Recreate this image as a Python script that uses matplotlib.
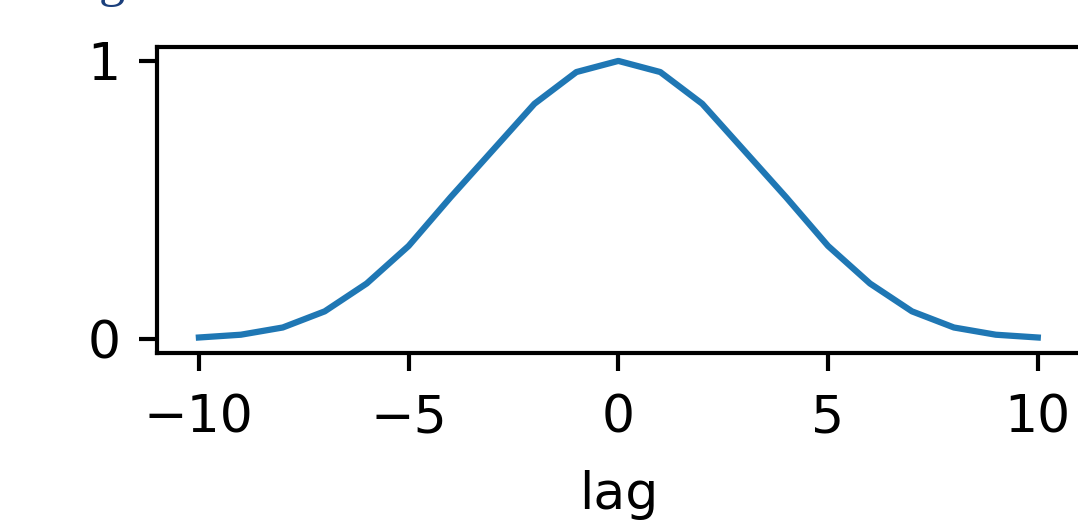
import matplotlib
matplotlib.use("Agg")
import matplotlib.pyplot as plt

# valores (simetrico alrededor de 0)
lags = list(range(-10, 11))
mitad = [0.006, 0.016, 0.042, 0.10, 0.20, 0.335, 0.51, 0.678, 0.846, 0.96]
correlacion = mitad + [1.0] + mitad[::-1]

fig = plt.figure(figsize=(1078 / 375, 520 / 375), dpi=375)
ax = fig.add_axes([0.1456, 0.321, 0.856, 0.5886])
ax.plot(lags, correlacion, color="#1f77b4", lw=1.2)
ax.set_xlim(-11, 11)
ax.set_ylim(-0.05, 1.05)
ax.set_xticks([-10, -5, 0, 5, 10])
ax.set_yticks([0, 1])
ax.tick_params(axis="x", pad=4.3)
ax.set_xlabel("lag", labelpad=5)

# resto del titulo que queda cortado arriba
fig.text(0.092, 1.008, "g", color="#1b3f7c", fontsize=10,
         family="Liberation Serif", va="baseline")

fig.savefig("out.png", dpi=375)
